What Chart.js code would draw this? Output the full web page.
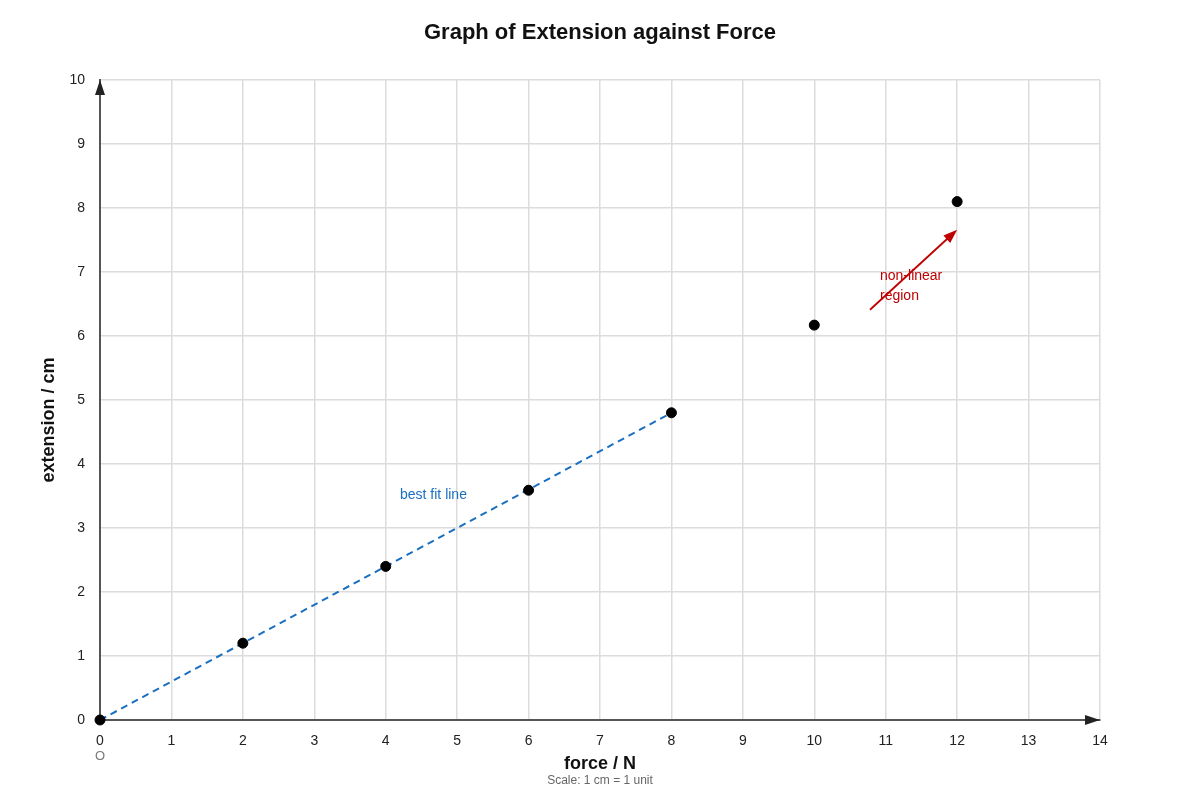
<!DOCTYPE html>
<html>
<head>
<meta charset="utf-8">
<script src="https://cdn.jsdelivr.net/npm/chart.js@4/dist/chart.umd.min.js"></script>
<style>
  html, body { margin: 0; padding: 0; background: #ffffff; }
  #wrap { width: 1200px; height: 800px; }
</style>
</head>
<body>
<div id="wrap"><canvas id="c" width="1200" height="800"></canvas></div>
<script>
// ---- data ----
const forceN = [0, 2, 4, 6, 8, 10, 12];
const extensionCm = [0, 1.2, 2.4, 3.59, 4.8, 6.17, 8.1];
const fitX = [0, 8];
const fitY = [0, 4.8];
const xTicks = [0, 1, 2, 3, 4, 5, 6, 7, 8, 9, 10, 11, 12, 13, 14];
const yTicks = [0, 1, 2, 3, 4, 5, 6, 7, 8, 9, 10];
const fitLabel = { text: 'best fit line', x: 4.2, y: 3.51 };
const nonLinearArrowFrom = [10.78, 6.41];
const nonLinearArrowTo = [12.0, 7.66];
const nonLinearLabel = { lines: ['non-linear', 'region'], x: 10.92, y: 6.94, dy: 0.31 };

const FONT = '"Liberation Sans", Arial, Helvetica, sans-serif';

function arrowHead(ctx, x1, y1, x2, y2, len, halfW, color) {
  const a = Math.atan2(y2 - y1, x2 - x1);
  ctx.save();
  ctx.fillStyle = color;
  ctx.beginPath();
  ctx.moveTo(x2, y2);
  ctx.lineTo(x2 - len * Math.cos(a) + halfW * Math.sin(a), y2 - len * Math.sin(a) - halfW * Math.cos(a));
  ctx.lineTo(x2 - len * Math.cos(a) - halfW * Math.sin(a), y2 - len * Math.sin(a) + halfW * Math.cos(a));
  ctx.closePath();
  ctx.fill();
  ctx.restore();
}

const extras = {
  id: 'extras',
  afterDatasetsDraw(chart) {
    const { ctx, chartArea: ca, scales: { x, y } } = chart;
    ctx.save();
    // title
    ctx.fillStyle = '#111';
    ctx.font = 'bold 22px ' + FONT;
    ctx.textAlign = 'center';
    ctx.textBaseline = 'middle';
    ctx.fillText('Graph of Extension against Force', chart.width / 2, 33);

    // axis arrowheads
    arrowHead(ctx, ca.left, ca.bottom, ca.left, ca.top, 15, 5, '#222');
    arrowHead(ctx, ca.left, ca.bottom, ca.right, ca.bottom, 15, 5, '#222');

    // best-fit label
    ctx.font = '14px ' + FONT;
    ctx.fillStyle = '#1a6fc0';
    ctx.textAlign = 'left';
    ctx.fillText(fitLabel.text, x.getPixelForValue(fitLabel.x), y.getPixelForValue(fitLabel.y));

    // non-linear arrow
    const ax1 = x.getPixelForValue(nonLinearArrowFrom[0]);
    const ay1 = y.getPixelForValue(nonLinearArrowFrom[1]);
    const ax2 = x.getPixelForValue(nonLinearArrowTo[0]);
    const ay2 = y.getPixelForValue(nonLinearArrowTo[1]);
    ctx.strokeStyle = '#c00000';
    ctx.lineWidth = 1.8;
    ctx.beginPath();
    ctx.moveTo(ax1, ay1);
    const ang = Math.atan2(ay2 - ay1, ax2 - ax1);
    ctx.lineTo(ax2 - 10 * Math.cos(ang), ay2 - 10 * Math.sin(ang));
    ctx.stroke();
    arrowHead(ctx, ax1, ay1, ax2, ay2, 14, 5, '#c00000');

    ctx.fillStyle = '#c00000';
    ctx.font = '14px ' + FONT;
    nonLinearLabel.lines.forEach((t, i) => {
      ctx.fillText(t, x.getPixelForValue(nonLinearLabel.x), y.getPixelForValue(nonLinearLabel.y - i * nonLinearLabel.dy));
    });

    // axis titles
    ctx.fillStyle = '#111';
    ctx.font = 'bold 18px ' + FONT;
    ctx.textAlign = 'center';
    ctx.fillText('force / N', (ca.left + ca.right) / 2, ca.bottom + 44);
    ctx.font = '12px ' + FONT;
    ctx.fillStyle = '#666';
    ctx.fillText('Scale: 1 cm = 1 unit', (ca.left + ca.right) / 2, ca.bottom + 61);
    ctx.font = '13px ' + FONT;
    ctx.fillStyle = '#777';
    ctx.fillText('O', x.getPixelForValue(0), ca.bottom + 36);

    ctx.save();
    ctx.translate(49, (ca.top + ca.bottom) / 2 + 20);
    ctx.rotate(-Math.PI / 2);
    ctx.font = 'bold 18px ' + FONT;
    ctx.fillStyle = '#111';
    ctx.fillText('extension / cm', 0, 0);
    ctx.restore();
    ctx.restore();
  }
};

new Chart(document.getElementById('c'), {
  type: 'scatter',
  data: {
    datasets: [
      {
        label: 'measurements',
        data: forceN.map((f, i) => ({ x: f, y: extensionCm[i] })),
        backgroundColor: '#000',
        borderColor: '#000',
        pointRadius: 5,
        pointHoverRadius: 5,
        clip: false,
        order: 0
      },
      {
        type: 'line',
        label: 'best fit line',
        data: fitX.map((f, i) => ({ x: f, y: fitY[i] })),
        borderColor: '#1a6fc0',
        borderWidth: 2,
        borderDash: [7, 5],
        pointRadius: 0,
        fill: false,
        order: 1
      }
    ]
  },
  options: {
    responsive: false,
    animation: false,
    devicePixelRatio: 1,
    layout: { padding: { top: 80, right: 100, bottom: 0, left: 0 } },
    plugins: {
      legend: { display: false },
      tooltip: { enabled: false },
      title: { display: false }
    },
    scales: {
      x: {
        type: 'linear',
        min: 0, max: 14,
        afterBuildTicks: (s) => { s.ticks = xTicks.map(v => ({ value: v })); },
        afterFit: (s) => { s.height = 80; },
        ticks: { color: '#222', font: { family: FONT, size: 14 }, padding: 13, maxRotation: 0 },
        grid: { color: '#dcdcdc', lineWidth: 1.5, drawTicks: false },
        border: { color: '#555', width: 2 }
      },
      y: {
        type: 'linear',
        min: 0, max: 10,
        afterBuildTicks: (s) => { s.ticks = yTicks.map(v => ({ value: v })); },
        afterFit: (s) => { s.width = 100; },
        ticks: { color: '#222', font: { family: FONT, size: 14 }, padding: 15 },
        grid: { color: '#dcdcdc', lineWidth: 1.5, drawTicks: false },
        border: { color: '#555', width: 2 }
      }
    }
  },
  plugins: [extras]
});
</script>
</body>
</html>
